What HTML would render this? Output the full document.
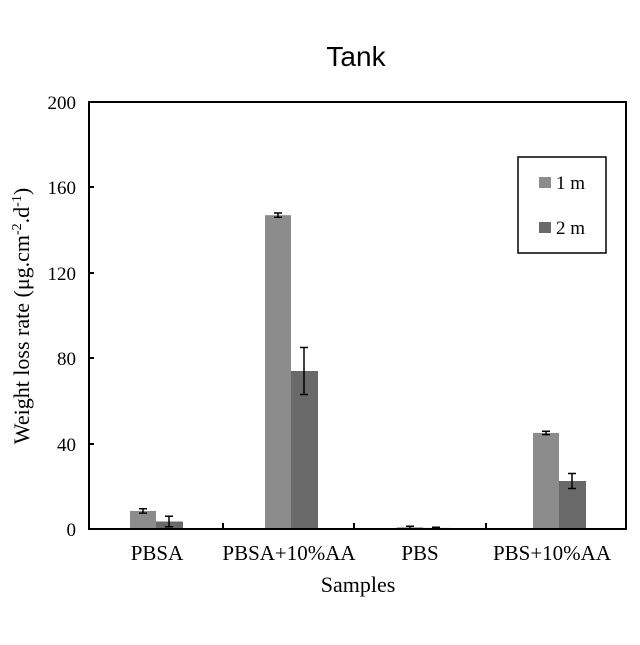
<!DOCTYPE html>
<html><head><style>body{margin:0;background:#fff}</style></head><body>
<svg width="640" height="640" xmlns="http://www.w3.org/2000/svg" font-family="Liberation Serif, serif">
<text x="356" y="66" font-family="Liberation Sans, sans-serif" font-size="28" text-anchor="middle">Tank</text>
<g fill="#8c8c8c">
<rect x="130" y="510.9" width="26" height="18.1"/>
<rect x="265" y="215.2" width="26" height="313.8"/>
<rect x="397" y="527.3" width="26" height="1.7"/>
<rect x="533" y="432.9" width="26" height="96.1"/>
</g>
<g fill="#696969">
<rect x="156" y="521.5" width="27" height="7.5"/>
<rect x="291" y="371" width="27" height="158"/>
<rect x="423" y="527.9" width="27" height="1.1"/>
<rect x="559" y="481" width="27" height="48"/>
</g>
<g stroke="#000" stroke-width="1.5" fill="none">
<path d="M143 508.8v4.3M139 508.8h8M139 513.1h8"/>
<path d="M169 516.2v10.6M165 516.2h8M165 526.8h8"/>
<path d="M278 213v4.3M274 213h8M274 217.3h8"/>
<path d="M304 347.5v47M300 347.5h8M300 394.5h8"/>
<path d="M410 526.2v2.2M406 526.2h8"/>
<path d="M436 527.2v1.3M432 527.2h8"/>
<path d="M546 431.2v3.4M542 431.2h8M542 434.6h8"/>
<path d="M572 473.5v15M568 473.5h8M568 488.5h8"/>
</g>
<g stroke="#000" stroke-width="2" fill="none">
<rect x="89" y="102" width="537" height="427"/>
<path d="M89 444h5M89 358h5M89 273h5M89 187h5M223 529v-6M354 529v-6M486 529v-6"/>
<rect x="518" y="157" width="88" height="96" stroke-width="1.5"/>
</g>
<g font-size="19" text-anchor="end">
<text x="76" y="536">0</text><text x="76" y="451">40</text><text x="76" y="365">80</text>
<text x="76" y="280">120</text><text x="76" y="194">160</text><text x="76" y="109">200</text>
</g>
<g font-size="21" text-anchor="middle">
<text x="157" y="560">PBSA</text><text x="289" y="560">PBSA+10%AA</text>
<text x="420" y="560">PBS</text><text x="552" y="560">PBS+10%AA</text>
<text x="358" y="592" font-size="22">Samples</text>
</g>
<text transform="translate(29,316) rotate(-90)" font-size="22" text-anchor="middle">Weight loss rate (μg.cm<tspan font-size="14" dy="-8">-2</tspan><tspan dy="8">.d</tspan><tspan font-size="14" dy="-8">-1</tspan><tspan dy="8">)</tspan></text>
<rect x="539" y="177" width="12" height="11" fill="#8c8c8c"/>
<rect x="539" y="222" width="12" height="11" fill="#696969"/>
<text x="556" y="189" font-size="19">1 m</text>
<text x="556" y="234" font-size="19">2 m</text>
</svg>
</body></html>
